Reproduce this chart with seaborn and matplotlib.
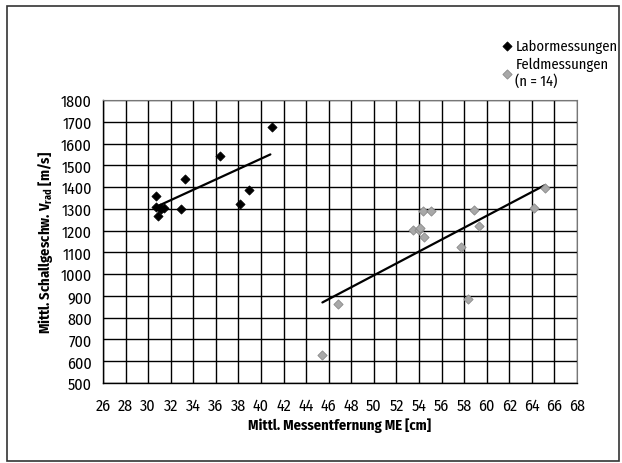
import matplotlib
matplotlib.use("Agg")
import matplotlib.pyplot as plt
from matplotlib import font_manager
from matplotlib.font_manager import FontProperties
from matplotlib.patches import Rectangle
import seaborn as sns
import pandas as pd
import os

# ---- data ----
labor_x = [30.68, 30.74, 30.91, 31.03, 31.14, 31.38, 32.94, 33.31, 36.40, 38.14, 38.92, 40.97]
labor_y = [1361, 1309, 1268, 1302, 1299, 1306, 1299, 1439, 1541, 1323, 1387, 1675]
feld_x = [45.44, 46.85, 53.50, 53.96, 54.10, 54.43, 54.32, 55.05, 57.68, 58.33, 58.85, 59.35, 64.18, 65.15]
feld_y = [627, 864, 1201, 1205, 1210, 1170, 1290, 1290, 1123, 885, 1293, 1219, 1302, 1398]
labor_trend_x = [30.91, 40.83]
labor_trend_y = [1314, 1550]
feld_trend_x = [45.44, 65.12]
feld_trend_y = [870, 1408]
x_ticks = list(range(26, 69, 2))
y_ticks = list(range(500, 1801, 100))
series_names = ["Labormessungen", "Feldmessungen\n(n = 14)"]

sns.set_style("white")


def wnum(w):
    if isinstance(w, (int, float)):
        return w
    return font_manager.weight_dict.get(str(w).lower(), 400)


# gather static condensed faces, grouped by family
groups = {}
for f in font_manager.fontManager.ttflist:
    fn = os.path.basename(f.fname)
    low = fn.lower()
    if f.style != "normal" or "[" in fn:
        continue
    if "semi" in low or "extra" in low or "ultra" in low:
        continue
    st = str(f.stretch).lower()
    if "condensed" in st or "condensed" in low or "narrow" in low or "narrow" in f.name.lower():
        groups.setdefault(f.name, []).append(f)

prefs = ["Fira Sans Condensed", "IBM Plex Sans Condensed", "Open Sans Condensed",
         "Roboto Condensed", "PT Sans Narrow", "Liberation Sans Narrow",
         "Archivo Narrow", "Noto Sans", "Open Sans"]
order = [p for p in prefs if p in groups] + sorted(g for g in groups if g not in prefs)

reg_fp = FontProperties(family="DejaVu Sans", stretch="condensed")
bold_fp = FontProperties(family="DejaVu Sans", weight="bold", stretch="condensed")
for name in order:
    lst = groups[name]
    regs = [f for f in lst if wnum(f.weight) == 400]
    blds = [f for f in lst if wnum(f.weight) == 700]
    if regs and blds:
        reg_fp = FontProperties(fname=regs[0].fname)
        bold_fp = FontProperties(fname=blds[0].fname)
        break


def fp(base, size):
    p = base.copy()
    p.set_size(size)
    return p


fig = plt.figure(figsize=(6.22, 4.64), dpi=100)
ax = fig.add_axes([103/622, 1-384/464, (577-103)/622, (384-101)/464])

df_l = pd.DataFrame({"x": labor_x, "y": labor_y})
df_f = pd.DataFrame({"x": feld_x, "y": feld_y})

sns.scatterplot(data=df_l, x="x", y="y", marker="D", s=22, color="black",
                edgecolor="black", linewidth=0.5, ax=ax, label=series_names[0], zorder=4)
sns.scatterplot(data=df_f, x="x", y="y", marker="D", s=22, color="#a8a8a8",
                edgecolor="#8a8a8a", linewidth=0.6, ax=ax, label=series_names[1], zorder=4)
sns.lineplot(x=labor_trend_x, y=labor_trend_y, color="black", lw=1.6, ax=ax, zorder=3)
sns.lineplot(x=feld_trend_x, y=feld_trend_y, color="black", lw=1.6, ax=ax, zorder=3)

ax.set_xlim(26, 68)
ax.set_ylim(500, 1800)
ax.set_xticks(x_ticks)
ax.set_yticks(y_ticks)
ax.tick_params(axis="both", direction="out", length=5, width=1,
               color="black", pad=3, labelcolor="black")
ax.tick_params(axis="x", pad=5)
for lab in ax.get_xticklabels() + ax.get_yticklabels():
    lab.set_fontproperties(fp(reg_fp, 11.5))
ax.grid(True, color="black", lw=1.0)
ax.set_axisbelow(True)
for s in ["left", "bottom"]:
    ax.spines[s].set_color("black")
    ax.spines[s].set_linewidth(1.0)
for s in ["top", "right"]:
    ax.spines[s].set_color("#777777")
    ax.spines[s].set_linewidth(0.8)
    ax.spines[s].set_linestyle((0, (1, 1)))

ax.set_xlabel("Mittl. Messentfernung ME [cm]", fontproperties=fp(bold_fp, 10.5),
              labelpad=3, color="black")
ax.set_ylabel(r"Mittl. Schallgeschw. V$\mathregular{_{rad}}$ [m/s]",
              fontproperties=fp(bold_fp, 10.5), labelpad=4, color="black")

leg = ax.legend(loc="upper left", bbox_to_anchor=(500/622, 1-40/464),
                bbox_transform=fig.transFigure, frameon=False, prop=fp(reg_fp, 10.5),
                handletextpad=0.05, handlelength=1.0, labelspacing=0.25,
                borderpad=0, borderaxespad=0)
for t in leg.get_texts():
    t.set_color("black")

fig.patches.append(Rectangle((7/622, 1-462/464), (619-7)/622, (462-7)/464,
                             transform=fig.transFigure, fill=False,
                             edgecolor="#333333", lw=1.2))

fig.savefig("out.png", dpi=100)
